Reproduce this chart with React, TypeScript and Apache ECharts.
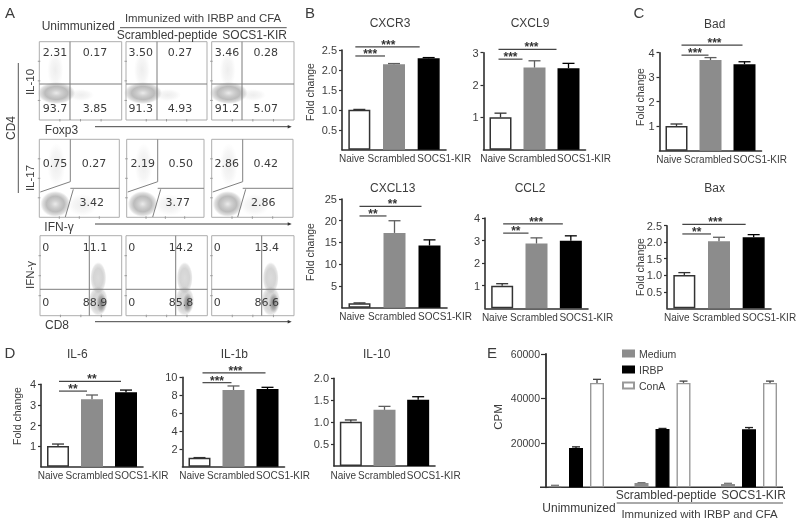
import React, { useEffect, useRef } from "react";
import * as echarts from "echarts";

const groupLabels = ["Naive", "Scrambled", "SOCS1-KIR"];

const cxcr3Values = [1.0, 2.14, 2.29];
const cxcr3Tops = [1.01, 2.16, 2.31];
const cxcl9Values = [1.0, 2.54, 2.52];
const cxcl9Tops = [1.13, 2.75, 2.67];
const cxcl13Values = [1.0, 17.2, 14.3];
const cxcl13Tops = [1.1, 20.0, 15.6];
const ccl2Values = [1.0, 2.87, 2.99];
const ccl2Tops = [1.09, 3.12, 3.21];
const badValues = [1.01, 3.7, 3.53];
const badTops = [1.09, 3.8, 3.63];
const baxValues = [1.01, 2.03, 2.15];
const baxTops = [1.08, 2.15, 2.23];
const il6Values = [1.0, 3.27, 3.61];
const il6Tops = [1.1, 3.48, 3.72];
const il1bValues = [1.0, 8.58, 8.69];
const il1bTops = [1.02, 9.03, 8.88];
const il10Values = [1.01, 1.28, 1.51];
const il10Tops = [1.05, 1.36, 1.58];

// [from group, to group, height in axis units, stars]
const cxcr3Sig = [[0, 1, 2.35, "***"], [0, 2, 2.58, "***"]];
const cxcl9Sig = [[0, 1, 2.8, "***"], [0, 2, 3.1, "***"]];
const cxcl13Sig = [[0, 1, 21.1, "**"], [0, 2, 23.3, "**"]];
const ccl2Sig = [[0, 1, 3.33, "**"], [0, 2, 3.74, "***"]];
const badSig = [[0, 1, 3.9, "***"], [0, 2, 4.31, "***"]];
const baxSig = [[0, 1, 2.25, "**"], [0, 2, 2.54, "***"]];
const il6Sig = [[0, 1, 3.67, "**"], [0, 2, 4.14, "**"]];
const il1bSig = [[0, 1, 9.4, "***"], [0, 2, 10.5, "***"]];
const il10Sig: any[] = [];

const cpmGroups = ["Unimmunized", "Scrambled-peptide", "SOCS1-KIR"];
const mediumValues = [600, 1900, 1500];
const mediumTops = [900, 2100, 1800];
const irbpValues = [17700, 26200, 26100];
const irbpTops = [18200, 26500, 26900];
const conAValues = [47000, 47000, 47000];
const conATops = [48600, 47800, 47800];

const quadrantsIL10 = [
  ["2.31", "0.17", "93.7", "3.85"],
  ["3.50", "0.27", "91.3", "4.93"],
  ["3.46", "0.28", "91.2", "5.07"],
];
const quadrantsIL17 = [
  ["0.75", "0.27", "3.42"],
  ["2.19", "0.50", "3.77"],
  ["2.86", "0.42", "2.86"],
];
const quadrantsCD8 = [
  ["0", "11.1", "0", "88.9"],
  ["0", "14.2", "0", "85.8"],
  ["0", "13.4", "0", "86.6"],
];

const SANS = '"Liberation Sans", Arial, sans-serif';
const INK = "#3c3c3c";
const barFill = ["#ffffff", "#8c8c8c", "#000000"];
const barEdge = ["#333333", "#8c8c8c", "#000000"];
const whiskerColor = ["#333333", "#5e5e5e", "#000000"];

const panels = [
  { title: "CXCR3", tx: 390, ty: 24, left: 342, width: 104, top: 50, base: 149.7, max: 2.5, step: 0.5, fixed: 1, values: cxcr3Values, tops: cxcr3Tops, sig: cxcr3Sig, sL: -4, sR: -9 },
  { title: "CXCL9", tx: 530, ty: 24, left: 483.5, width: 102, top: 52.7, base: 149.7, max: 3, step: 1, fixed: 0, values: cxcl9Values, tops: cxcl9Tops, sig: cxcl9Sig, sL: -2, sR: -12 },
  { title: "CXCL13", tx: 392.7, ty: 189, left: 342, width: 105, top: 199, base: 307.7, max: 25, step: 5, fixed: 0, values: cxcl13Values, tops: cxcl13Tops, sig: cxcl13Sig, sL: 0, sR: -8 },
  { title: "CCL2", tx: 530, ty: 189, left: 485, width: 103, top: 218, base: 308.3, max: 4, step: 1, fixed: 0, values: ccl2Values, tops: ccl2Tops, sig: ccl2Sig, sL: 1, sR: -8 },
  { title: "Bad", tx: 714.7, ty: 25, left: 659.5, width: 102, top: 52.7, base: 150.7, max: 4, step: 1, fixed: 0, values: badValues, tops: badTops, sig: badSig, sL: 5, sR: -2 },
  { title: "Bax", tx: 714.7, ty: 189.3, left: 667, width: 104, top: 225.7, base: 308.3, max: 2.5, step: 0.5, fixed: 1, values: baxValues, tops: baxTops, sig: baxSig, sL: -2, sR: -8 },
  { title: "IL-6", tx: 77.3, ty: 355, left: 41, width: 102, top: 384.3, base: 466.7, max: 4, step: 1, fixed: 0, values: il6Values, tops: il6Tops, sig: il6Sig, sL: 1, sR: -5 },
  { title: "IL-1b", tx: 234.3, ty: 355, left: 182.5, width: 102, top: 377.3, base: 466.7, max: 10, step: 2, fixed: 0, values: il1bValues, tops: il1bTops, sig: il1bSig, sL: 3, sR: -2 },
  { title: "IL-10", tx: 376.7, ty: 355, left: 334, width: 101, top: 378.3, base: 466, max: 2, step: 0.5, fixed: 1, values: il10Values, tops: il10Tops, sig: il10Sig, sL: 0, sR: 0 },
];

const label = (text: string, x: number, y: number, size: number, extra: any = {}) => ({
  type: "text",
  x,
  y,
  silent: true,
  rotation: extra.rotation || 0,
  style: {
    text,
    fill: extra.fill || INK,
    font: `${extra.weight || "normal"} ${size}px ${extra.family || SANS}`,
    align: extra.align || "center",
    textAlign: extra.align || "center",
    verticalAlign: "middle",
    textVerticalAlign: "middle",
  },
});

const seg = (x1: number, y1: number, x2: number, y2: number, stroke = "#666666", lineWidth = 1) => ({
  type: "line",
  silent: true,
  shape: { x1, y1, x2, y2 },
  style: { stroke, lineWidth },
});

const cloud = (cx: number, cy: number, rx: number, ry: number, stops: [number, string][]) => ({
  type: "ellipse",
  silent: true,
  shape: { cx, cy, rx, ry },
  style: {
    fill: new echarts.graphic.RadialGradient(0.5, 0.5, 0.5, stops.map(([offset, color]) => ({ offset, color }))),
  },
});

const flowFrame = (x1: number, y1: number, x2: number, y2: number) => {
  const ticks: any[] = [];
  for (let i = 1; i < 4; i++) {
    ticks.push(seg(x1 - 1.5, y1 + ((y2 - y1) * i) / 4, x1 + 1, y1 + ((y2 - y1) * i) / 4, "#9a9a9a"));
    ticks.push(seg(x1 + ((x2 - x1) * i) / 4, y2 - 1, x1 + ((x2 - x1) * i) / 4, y2 + 1.5, "#9a9a9a"));
  }
  return [
    { type: "rect", silent: true, shape: { x: x1, y: y1, width: x2 - x1, height: y2 - y1 }, style: { fill: "none", stroke: "#adadad", lineWidth: 1 } },
    ...ticks,
  ];
};

const arrow = (x1: number, x2: number, y: number) => [
  seg(x1, y, x2 - 3, y, "#444444", 1),
  { type: "polygon", silent: true, shape: { points: [[x2 - 4, y - 1.8], [x2, y], [x2 - 4, y + 1.8]] }, style: { fill: "#333333" } },
];

const FLOW = '"DejaVu Sans", sans-serif';

function flowPanel() {
  const out: any[] = [];
  const soft: [number, string][] = [[0, "rgba(130,130,130,0.14)"], [0.6, "rgba(140,140,140,0.08)"], [1, "rgba(160,160,160,0)"]];
  const ring: [number, string][] = [[0, "rgba(232,232,232,0.9)"], [0.25, "rgba(205,205,205,0.9)"], [0.6, "rgba(165,165,165,0.75)"], [0.85, "rgba(175,175,175,0.4)"], [1, "rgba(190,190,190,0)"]];
  const column: [number, string][] = [[0, "rgba(190,190,190,0.55)"], [0.6, "rgba(170,170,170,0.5)"], [0.85, "rgba(170,170,170,0.3)"], [1, "rgba(190,190,190,0)"]];
  const dark: [number, string][] = [[0, "rgba(85,85,85,0.75)"], [0.6, "rgba(115,115,115,0.45)"], [1, "rgba(140,140,140,0)"]];

  // Row 1: IL-10 vs Foxp3
  const row1 = [[39.3, 121.7, 70, 55, 95], [126, 207, 157, 140.7, 180], [211.7, 294, 242, 227, 265.7]];
  row1.forEach(([l, r, v, a, b], i) => {
    out.push(cloud(l + 16, 70, 8, 18, soft));
    out.push(cloud(v + 11, 95, 13, 6, soft));
    out.push(cloud(l + 17, 93, 19, 11, ring));
    out.push(...flowFrame(l, 41.7, r, 120));
    out.push(seg(v, 41.7, v, 120, "#7c7c7c"), seg(l, 84, r, 84, "#7c7c7c"));
    const q = quadrantsIL10[i];
    out.push(label(q[0], a, 52, 11, { family: FLOW }), label(q[1], b, 52, 11, { family: FLOW }));
    out.push(label(q[2], a, 108, 11, { family: FLOW }), label(q[3], b, 108, 11, { family: FLOW }));
  });

  // Row 2: IL-17 vs IFN-g
  const row2 = [[39.3, 119.3, 55, 94, 91.7], [126.7, 204, 142.7, 180.7, 177.7], [211.7, 293, 226.7, 265.7, 263.3]];
  row2.forEach(([l, r, a, b, c], i) => {
    const gx = l + 31;
    out.push(cloud(l + 17, 165, 9, 22, soft));
    out.push(cloud(gx + 12, 205, 15, 11, soft));
    out.push(cloud(l + 16, 204, 15, 13, ring));
    out.push(...flowFrame(l, 139.3, r, 217.3));
    out.push({ type: "polyline", silent: true, shape: { points: [[l + 1, 192], [gx, 181.7], [gx, 139.3]] }, style: { fill: "none", stroke: "#808080", lineWidth: 1 } });
    out.push(seg(gx, 188.3, r, 188.3, "#808080"));
    out.push({ type: "polyline", silent: true, shape: { points: [[gx - 5, 217], [gx + 3, 189.3]] }, style: { fill: "none", stroke: "#808080", lineWidth: 1 } });
    const q = quadrantsIL17[i];
    out.push(label(q[0], a, 163.5, 11, { family: FLOW }), label(q[1], b, 163, 11, { family: FLOW }), label(q[2], c, 202.3, 11, { family: FLOW }));
  });

  // Row 3: IFN-g vs CD8
  const row3 = [[40, 121.7, 89.3, 45.7, 95], [126, 207.3, 175.7, 131.7, 181], [211.7, 294, 261.7, 217.3, 266.7]];
  row3.forEach(([l, r, v, a, b], i) => {
    out.push(cloud(v + 9, 278, 8, 16, column));
    out.push(cloud(v + 9, 301, 9.5, 15, column));
    out.push(cloud(v + 12, 303, 5, 10, dark));
    out.push(...flowFrame(l, 235.7, r, 315.7));
    out.push(seg(v, 235.7, v, 315.7, "#7c7c7c"), seg(l, 289.3, r, 289.3, "#7c7c7c"));
    const q = quadrantsCD8[i];
    out.push(label(q[0], a, 247, 11, { family: FLOW }), label(q[1], b, 247, 11, { family: FLOW }));
    out.push(label(q[2], a, 302.5, 11, { family: FLOW }), label(q[3], b, 302.5, 11, { family: FLOW }));
  });

  out.push(label("Unimmunized", 78.3, 26, 12));
  out.push(label("Immunized with IRBP and CFA", 203, 18.3, 11.4));
  out.push(seg(120, 27.7, 286.7, 27.7, "#555555"));
  out.push(label("Scrambled-peptide", 167, 34.5, 12));
  out.push(label("SOCS1-KIR", 254.7, 34.5, 12));
  out.push(label("Foxp3", 61.5, 130, 12), ...arrow(95, 291.7, 126.7));
  out.push(label("IFN-γ", 59, 227.3, 12), ...arrow(95, 291.7, 224));
  out.push(label("CD8", 57, 325, 12), ...arrow(95, 291.7, 321.7));
  out.push(label("IL-10", 30, 82, 11.5, { rotation: Math.PI / 2 }));
  out.push(label("IL-17", 30, 178, 11.5, { rotation: Math.PI / 2 }));
  out.push(label("IFN-γ", 30, 275, 11.5, { rotation: Math.PI / 2 }));
  out.push(label("CD4", 11, 128, 12, { rotation: Math.PI / 2 }));
  out.push(seg(18.3, 63, 18.3, 193, "#555555"));
  return out;
}

function sideLabels() {
  const fc = (x: number, y: number) => label("Fold change", x, y, 10.5, { rotation: Math.PI / 2 });
  return [
    fc(310, 92), fc(310, 252), fc(640, 97), fc(640, 267), fc(17.3, 416),
    label("A", 10, 12, 15), label("B", 310, 12, 15), label("C", 639, 12, 15),
    label("D", 10, 352, 15), label("E", 492, 352, 15),
    label("CPM", 498, 417, 11.5, { rotation: Math.PI / 2 }),
    seg(540, 487.3, 783, 487.3, "#333333", 1.6),
    label("Immunized with IRBP and CFA", 699.5, 513.5, 11.4),
    seg(616.7, 503, 783, 503, "#555555"),
  ];
}

function makeWhiskers(values: number[], tops: number[], gridIndex: number, colours: string[], shift: number, cap: number, name: string) {
  return {
    type: "custom",
    name,
    xAxisIndex: gridIndex,
    yAxisIndex: gridIndex,
    silent: true,
    z: 3,
    encode: { x: 0, y: 1 },
    data: values.map((v, i) => [i, v, tops[i]]),
    renderItem: (_p: any, api: any) => {
      const i = api.value(0);
      const a = api.coord([i, api.value(1)]);
      const b = api.coord([i, api.value(2)]);
      const st = { stroke: colours[i], lineWidth: 1.3 };
      return {
        type: "group",
        children: [
          { type: "line", shape: { x1: a[0] + shift, y1: a[1], x2: a[0] + shift, y2: b[1] }, style: st },
          { type: "line", shape: { x1: a[0] + shift - cap, y1: b[1], x2: a[0] + shift + cap, y2: b[1] }, style: st },
        ],
      };
    },
  };
}

function makeBrackets(sig: any[], gridIndex: number, sL: number, sR: number) {
  return {
    type: "custom",
    xAxisIndex: gridIndex,
    yAxisIndex: gridIndex,
    silent: true,
    z: 4,
    encode: { x: 0, y: 2 },
    dimensions: ["from", "to", "level"],
    data: sig.map((s) => [s[0], s[1], s[2]]),
    renderItem: (p: any, api: any) => {
      const level = api.value(2);
      const a = api.coord([api.value(0), level]);
      const b = api.coord([api.value(1), level]);
      const x1 = a[0] + sL;
      const x2 = b[0] + sR;
      return {
        type: "group",
        children: [
          { type: "line", shape: { x1, y1: a[1], x2, y2: a[1] }, style: { stroke: "#444444", lineWidth: 1.2 } },
          {
            type: "text",
            x: p.dataIndex === 0 ? (x1 + x2) / 2 : x1 + 33,
            y: a[1] - 2,
            style: { text: sig[p.dataIndex][3], fill: "#333333", font: `bold 12px ${SANS}`, align: "center", verticalAlign: "middle" },
          },
        ],
      };
    },
  };
}

function buildOption() {
  const grid: any[] = [];
  const xAxis: any[] = [];
  const yAxis: any[] = [];
  const series: any[] = [];
  const title: any[] = [];

  panels.forEach((p, g) => {
    grid.push({ left: p.left, width: p.width, top: p.top, height: p.base - p.top });
    title.push({
      text: p.title,
      left: p.tx,
      top: p.ty - 7,
      textAlign: "center",
      padding: 0,
      textStyle: { fontFamily: SANS, fontSize: 12, fontWeight: "normal", color: INK },
    });
    xAxis.push({
      type: "category",
      gridIndex: g,
      data: [
        { value: groupLabels[0], textStyle: { padding: [0, 15, 0, 0] } },
        { value: groupLabels[1], textStyle: { padding: [0, 5, 0, 0] } },
        { value: groupLabels[2], textStyle: { padding: [0, 0, 0, 31] } },
      ],
      axisLine: { lineStyle: { color: "#2f2f2f", width: 1.6 } },
      axisTick: { show: false },
      axisLabel: { interval: 0, margin: 4, fontFamily: SANS, fontSize: 10, color: INK, hideOverlap: false },
    });
    yAxis.push({
      type: "value",
      gridIndex: g,
      min: 0,
      max: p.max,
      interval: p.step,
      splitLine: { show: false },
      axisLine: { show: true, lineStyle: { color: "#2f2f2f", width: 1.6 } },
      axisTick: { show: true, length: 3, lineStyle: { color: "#2f2f2f", width: 1.2 } },
      axisLabel: {
        margin: 5,
        showMinLabel: false,
        fontFamily: SANS,
        fontSize: 11,
        color: INK,
        formatter: (v: number) => v.toFixed(p.fixed),
      },
    });
    series.push({
      type: "bar",
      xAxisIndex: g,
      yAxisIndex: g,
      barWidth: 22,
      silent: true,
      data: p.values.map((v, i) => ({
        value: v,
        itemStyle: { color: barFill[i], borderColor: barEdge[i], borderWidth: 1.5 },
      })),
    });
    series.push(makeWhiskers(p.values, p.tops, g, whiskerColor, 0, 6, `${p.title} error`));
    if (p.sig.length) series.push(makeBrackets(p.sig, g, p.sL, p.sR));
  });

  // Panel E
  const e = panels.length;
  grid.push({ left: 532.75, width: 259.5, top: 354, height: 133.3 });
  xAxis.push({
    type: "category",
    gridIndex: e,
    data: [
      { value: cpmGroups[0], textStyle: { padding: [13, 0, 0, 6] } },
      { value: cpmGroups[1], textStyle: { padding: [0, 0, 0, 7] } },
      { value: cpmGroups[2], textStyle: { padding: [0, 0, 0, 9] } },
    ],
    axisLine: { show: false },
    axisTick: { show: false },
    axisLabel: { interval: 0, margin: 2, fontFamily: SANS, fontSize: 12, color: INK, hideOverlap: false },
  });
  yAxis.push({
    type: "value",
    gridIndex: e,
    min: 0,
    max: 60000,
    interval: 20000,
    offset: -13.25,
    splitLine: { show: false },
    axisLine: { show: true, lineStyle: { color: "#2f2f2f", width: 1.8 } },
    axisTick: { show: true, length: 5, lineStyle: { color: "#2f2f2f", width: 1.2 } },
    axisLabel: { margin: 6, showMinLabel: false, fontFamily: SANS, fontSize: 10.5, color: INK, formatter: (v: number) => String(v) },
  });
  const eBar = (name: string, values: number[], fill: string, edge: string) => ({
    type: "bar",
    name,
    xAxisIndex: e,
    yAxisIndex: e,
    barWidth: 14,
    barGap: "50%",
    silent: true,
    itemStyle: { color: fill, borderColor: edge, borderWidth: 1.4 },
    data: values,
  });
  series.push(eBar("Medium", mediumValues, "#8c8c8c", "#8c8c8c"));
  series.push(eBar("IRBP", irbpValues, "#000000", "#000000"));
  series.push(eBar("ConA", conAValues, "#ffffff", "#999999"));
  series.push(makeWhiskers(mediumValues, mediumTops, e, ["#777777", "#777777", "#777777"], -21, 4, "Medium error"));
  series.push(makeWhiskers(irbpValues, irbpTops, e, ["#222222", "#222222", "#222222"], 0, 4, "IRBP error"));
  series.push(makeWhiskers(conAValues, conATops, e, ["#444444", "#444444", "#444444"], 21, 4, "ConA error"));

  return {
    animation: false,
    backgroundColor: "#ffffff",
    title,
    grid,
    xAxis,
    yAxis,
    series,
    legend: {
      data: ["Medium", "IRBP", "ConA"],
      orient: "vertical",
      left: 622,
      top: 348,
      padding: 0,
      icon: "rect",
      itemWidth: 11,
      itemHeight: 6,
      itemGap: 5,
      selectedMode: false,
      textStyle: { fontFamily: SANS, fontSize: 10.5, color: INK, padding: [0, 0, 0, 0] },
    },
    graphic: { elements: [...flowPanel(), ...sideLabels()] },
  };
}

export default function App() {
  const ref = useRef<HTMLDivElement | null>(null);
  useEffect(() => {
    const chart = echarts.init(ref.current as HTMLDivElement, undefined, { renderer: "svg" });
    chart.setOption(buildOption() as any);
    return () => chart.dispose();
  }, []);
  return (
    <div
      ref={ref}
      style={{ position: "fixed", left: 0, top: 0, width: 800, height: 523, background: "#fff", filter: "blur(0.45px)" }}
    />
  );
}
